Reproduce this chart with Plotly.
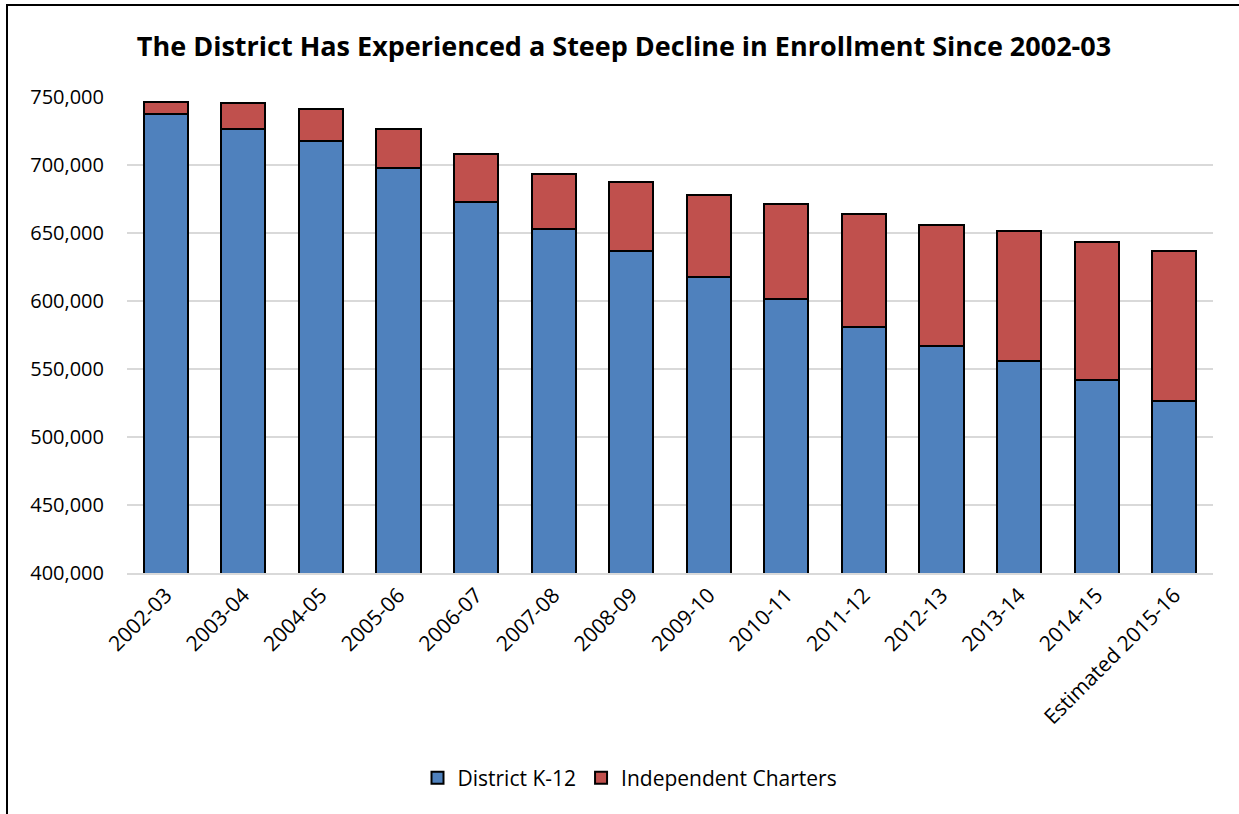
import plotly.graph_objects as go

# School years on the category axis
years = ["2002-03", "2003-04", "2004-05", "2005-06", "2006-07", "2007-08", "2008-09",
         "2009-10", "2010-11", "2011-12", "2012-13", "2013-14", "2014-15", "Estimated 2015-16"]

# Enrollment by segment
district_k12 = [737200, 726500, 717900, 697500, 673000, 652600, 636500,
                617400, 601500, 581100, 566600, 555900, 542100, 526700]
independent_charters = [9100, 19300, 23500, 29200, 34800, 41000, 51200,
                        60500, 69500, 82600, 89000, 95300, 101000, 109800]

FONT = "Open Sans"
BLUE = "#4F81BD"
RED = "#C0504D"

fig = go.Figure()
fig.add_trace(go.Bar(x=years, y=district_k12, name="District K-12",
                     marker=dict(color=BLUE, line=dict(color="black", width=2))))
fig.add_trace(go.Bar(x=years, y=independent_charters, name="Independent Charters",
                     marker=dict(color=RED, line=dict(color="black", width=2))))

# plot area in pixels: x 127..1213, y 97..573
L, R, T, B = 127, 1213, 97, 573
W, H = R - L, B - T


def px_x(px):
    return (px - L) / W


def px_y(py):
    return (B - py) / H


fig.update_layout(
    barmode="stack",
    bargap=0.43,
    width=1239, height=814,
    margin=dict(l=L, r=1239 - R, t=T, b=814 - B, pad=0),
    paper_bgcolor="white",
    plot_bgcolor="white",
    font=dict(family=FONT, color="black", size=20),
    title=dict(text="<b>The District Has Experienced a Steep Decline in Enrollment Since 2002-03</b>",
               x=px_x(624), xanchor="center", xref="paper",
               y=1 - 47 / 814, yanchor="middle", yref="container",
               font=dict(family=FONT, size=27, color="black")),
    showlegend=True,
    legend=dict(orientation="h", x=px_x(630), xanchor="center", y=px_y(778), yanchor="middle",
                font=dict(family=FONT, size=21, color="black"), traceorder="normal",
                itemwidth=30, tracegroupgap=0),
    # outer chart frame (right and bottom edges run past the page)
    shapes=[dict(type="rect", xref="paper", yref="paper",
                 x0=px_x(7), x1=px_x(1250), y0=px_y(830), y1=px_y(5),
                 line=dict(color="black", width=2), fillcolor="rgba(0,0,0,0)", layer="below")],
)

fig.update_yaxes(range=[400000, 750000], dtick=50000, tickformat=",",
                 showgrid=True, gridcolor="#d9d9d9", gridwidth=1.5,
                 zeroline=False, showline=False, ticks="",
                 ticklabelstandoff=22, tickfont=dict(family=FONT, size=20))
fig.update_xaxes(type="category", tickangle=-45, showline=True, linecolor="#d9d9d9", linewidth=1.5,
                 ticks="", tickfont=dict(family=FONT, size=21))

fig.write_html("out.html")
